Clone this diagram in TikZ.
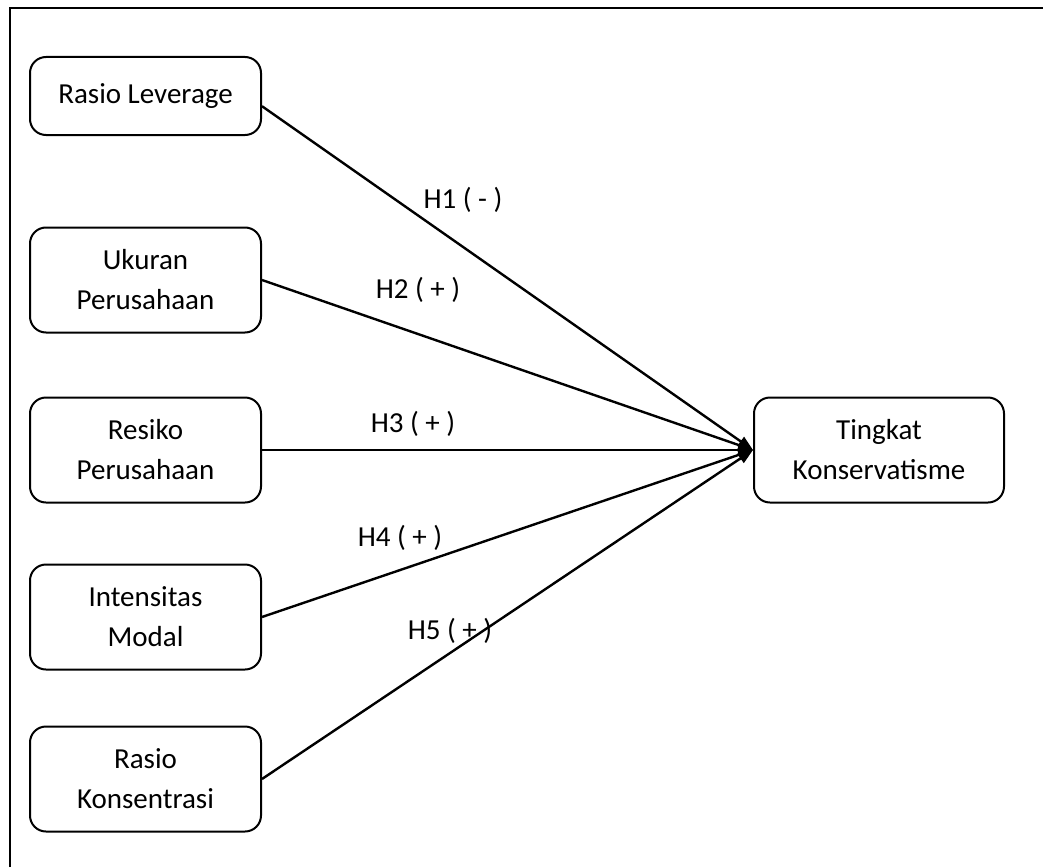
\documentclass[tikz,border=0pt]{standalone}
\usepackage{fontspec}
\setmainfont{Carlito}
\usetikzlibrary{arrows.meta}

\begin{document}
\begin{tikzpicture}[x=1pt, y=-1pt, font=\fontsize{29}{40}\selectfont,
        var/.style={draw, line width=2pt, rounded corners=16pt, align=center,
            minimum width=231pt, minimum height=105pt, inner sep=0pt},
        link/.style={line width=2.4pt, -{Triangle[length=15pt,width=11pt]}}]
        \useasboundingbox (0,0) rectangle (1043,867);
        \draw [line width=2.6pt] (10,867) -- (10,8) -- (1043,8);
        % variables
        \node[var, minimum height=78pt] (lev) at (145.5,96) {Rasio Leverage};
        \node[var] (uk) at (145.5,280) {Ukuran\\Perusahaan};
        \node[var] (res) at (145.5,450) {Resiko\\Perusahaan};
        \node[var] (int) at (145.5,617) {Intensitas\\Modal};
        \node[var] (kons) at (145.5,779) {Rasio\\Konsentrasi};
        \node[var, minimum width=250pt] (tk) at (879,450) {Tingkat\\Konservatisme};
        % hipotesis
        \draw [link] (lev.-5.4) -- (tk.west);
        \draw [link] (uk.east) -- (tk.west);
        \draw [link] (res.east) -- (tk.west);
        \draw [link] (int.east) -- (tk.west);
        \draw [link] (kons.east) -- (tk.west);
        \node (h1) at (463,200) {H1 ( - )};
        \node (h2) at (418,290) {H2 ( + )};
        \node (h3) at (413,424) {H3 ( + )};
        \node (h4) at (400,538) {H4 ( + )};
        \node (h5) at (450,631) {H5 ( + )};
\end{tikzpicture}
\end{document}
